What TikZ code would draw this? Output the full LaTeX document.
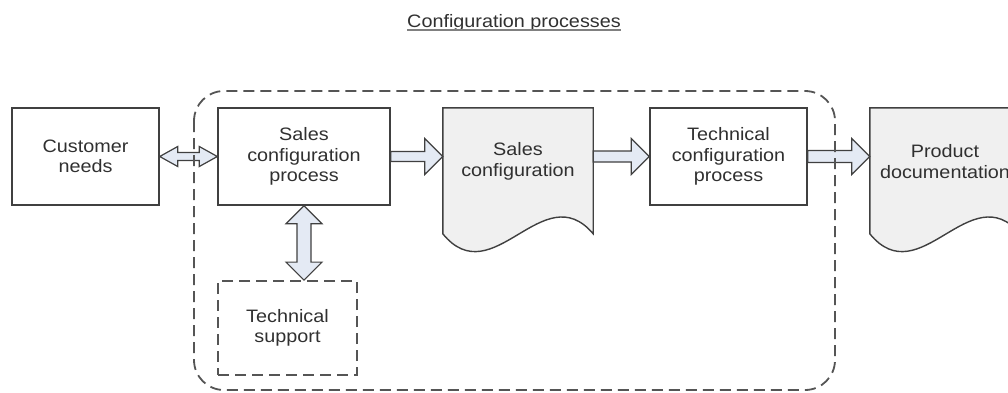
\documentclass[tikz,border=0pt]{standalone}
\usepackage{fontspec}
\setmainfont{Liberation Sans}[FakeStretch=1.1]
\usepackage{tikz}
\usetikzlibrary{calc, backgrounds}

\definecolor{lineGray}{HTML}{404040}
\definecolor{dashGray}{HTML}{555555}
\definecolor{arrowFill}{HTML}{E4EAF4}
\definecolor{docFill}{HTML}{F0F0F0}
\definecolor{textGray}{HTML}{303030}

% wide block arrow: #1 shaft half width, #2 head half width, #3 from, #4 to
\newcommand{\blockarrow}[4]{%
    \coordinate (ba-a) at (#3);
    \coordinate (ba-b) at (#4);
    \coordinate (ba-h) at ($(ba-b)!18pt!(ba-a)$);
    \draw[fatline] ($(ba-a)!#1!90:(ba-b)$) -- ($(ba-h)!#1!90:(ba-b)$)
        -- ($(ba-h)!#2!90:(ba-b)$) -- (ba-b) -- ($(ba-h)!#2!-90:(ba-b)$)
        -- ($(ba-h)!#1!-90:(ba-b)$) -- ($(ba-a)!#1!-90:(ba-b)$) -- cycle;
}
% same, with a head at both ends
\newcommand{\twinarrow}[4]{%
    \coordinate (ba-a) at (#3);
    \coordinate (ba-b) at (#4);
    \coordinate (ba-g) at ($(ba-a)!18pt!(ba-b)$);
    \coordinate (ba-h) at ($(ba-b)!18pt!(ba-a)$);
    \draw[fatline] (ba-a) -- ($(ba-g)!#2!90:(ba-b)$) -- ($(ba-g)!#1!90:(ba-b)$)
        -- ($(ba-h)!#1!90:(ba-b)$) -- ($(ba-h)!#2!90:(ba-b)$) -- (ba-b)
        -- ($(ba-h)!#2!-90:(ba-b)$) -- ($(ba-h)!#1!-90:(ba-b)$)
        -- ($(ba-g)!#1!-90:(ba-b)$) -- ($(ba-g)!#2!-90:(ba-b)$) -- cycle;
}
% document outline with wavy bottom behind node #1
\newcommand{\docoutline}[1]{%
    \draw[docline] (#1.north west) -- (#1.north east) -- ($(#1.north east)+(0,-126)$)
        .. controls +(-50,59) and +(50,-61) .. ($(#1.north west)+(0,-126)$) -- cycle;
}

\begin{document}
\begin{tikzpicture}[
            x = 1pt, y = 1pt, % one unit per pixel
            font = \fontsize{18}{20.5}\selectfont,
            proc/.style = {draw = lineGray, line width = 1.4pt, minimum height = 97pt,
                align = center, text = textGray, inner sep = 0pt},
            helpbox/.style = {draw = dashGray, line width = 1.8pt, dash pattern = on 11pt off 6pt,
                minimum height = 94pt, minimum width = 139pt, align = center, text = textGray},
            doc/.style = {minimum width = 150pt, minimum height = 107pt, align = center,
                text = textGray, inner sep = 0pt},
            docline/.style = {draw = lineGray, line width = 1.4pt, fill = docFill},
            fatline/.style = {draw = lineGray, line width = 1.2pt, fill = arrowFill, line join = miter},
            groupline/.style = {draw = dashGray, line width = 1.8pt, dash pattern = on 11pt off 6pt,
                rounded corners = 30pt}
        ]

        \useasboundingbox (0,0) rectangle (1008,-392);

        % title
        \node[text = textGray, inner sep = 0pt, anchor = base] (ttl) at (514,-27) {Configuration processes};
        \draw[gray, line width = 1.8pt] ($(ttl.base west)+(0,-3)$) -- ($(ttl.base east)+(0,-3)$);

        % process chain
        \node[proc, minimum width = 147pt] (cneed) at (85.5,-156.5) {Customer\\needs};
        \node[proc, minimum width = 172pt] (spro) at (304,-156.5) {Sales\\configuration\\process};
        \node[doc] (sconf) at (518,-161.5) {Sales\\configuration};
        \node[proc, minimum width = 157pt] (tpro) at (728.5,-156.5) {Technical\\configuration\\process};
        \node[doc] (pdoc) at (945,-161.5) {Product\\documentation};
        \node[helpbox] (tsup) at (287.5,-328) {Technical\\support};

        \begin{scope}[on background layer]
            \docoutline{sconf}
            \docoutline{pdoc}
        \end{scope}

        % connectors
        \twinarrow{4pt}{10pt}{cneed.east}{spro.west}
        \blockarrow{5pt}{18pt}{spro.east}{spro.east -| sconf.west}
        \blockarrow{5.5pt}{18pt}{tpro.west -| sconf.east}{tpro.west}
        \blockarrow{6pt}{18pt}{tpro.east}{tpro.east -| pdoc.west}
        \twinarrow{7pt}{18pt}{spro.south}{spro.south |- tsup.north}

        % group around the configuration processes
        \draw[groupline] (194,-91) rectangle (835,-390);

  \end{tikzpicture}
\end{document}
